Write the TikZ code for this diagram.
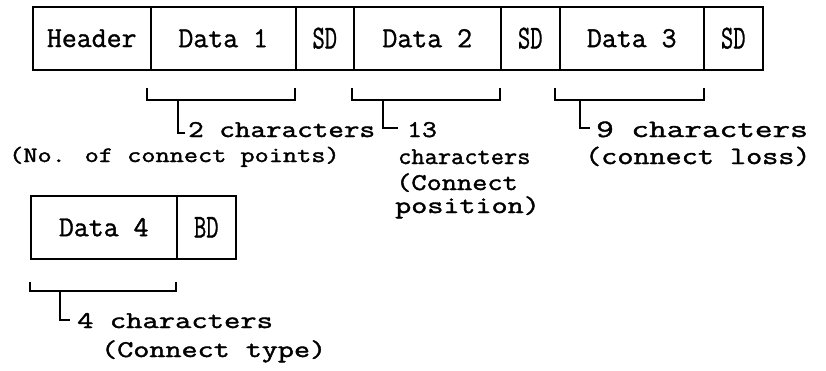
\documentclass[tikz,border=0pt]{standalone}
\usepackage{graphicx}
\newcommand\heavy[1]{\special{pdf:literal direct 2 Tr 0.35 w}#1\special{pdf:literal direct 0 Tr}}
\newcommand\narrowtxt[1]{\heavy{\scalebox{0.82}[1.15]{#1}}}
\newcommand\tw[3]{{\fontsize{#1}{#1}\selectfont\heavy{\scalebox{#2}[1]{#3}}}}
\begin{document}
\begin{tikzpicture}[x=1pt,y=-1pt,
  cell/.style={draw, line width=1.5pt, rectangle, inner sep=0pt,
    minimum height=63pt, anchor=north west,
    font=\fontsize{29}{34}\selectfont\ttfamily},
  brk/.style={line width=1.3pt},
  note/.style={anchor=base west, inner sep=0pt, font=\ttfamily}]
\useasboundingbox (0,0) rectangle (826,370);
% top row
\node[cell, minimum width=118pt] (hdr) at (32,6) {\heavy{Header}};
\node[cell, minimum width=145pt] (d1) at (150,6) {\heavy{Data 1}};
\node[cell, minimum width=58pt] (sd1) at (295,6) {\narrowtxt{SD}};
\node[cell, minimum width=147pt] (d2) at (353,6) {\heavy{Data 2}};
\node[cell, minimum width=59pt] (sd2) at (500,6) {\narrowtxt{SD}};
\node[cell, minimum width=144pt] (d3) at (559,6) {\heavy{Data 3}};
\node[cell, minimum width=59pt] (sd3) at (703,6) {\narrowtxt{SD}};
% bottom row
\node[cell, minimum width=146pt] (d4) at (30,195) {\heavy{Data 4}};
\node[cell, minimum width=59pt] (bd) at (176,195) {\narrowtxt{BD}};
% brackets
\draw[brk] (147,88) -- (147,100) -- (295,100) -- (295,88);
\draw[brk] (352,88) -- (352,100) -- (500,100) -- (500,88);
\draw[brk] (555,88) -- (555,100) -- (704,100) -- (704,88);
\draw[brk] (30,282) -- (30,291) -- (176,291) -- (176,282);
% stems
\coordinate (s1) at (178,100); \coordinate (h1) at (185,133);
\coordinate (s2) at (383,100); \coordinate (h2) at (398,128);
\coordinate (s3) at (580,100); \coordinate (h3) at (590,128);
\coordinate (s4) at (60,291);  \coordinate (h4) at (70,320);
\draw[brk] (s1) |- (h1);
\draw[brk] (s2) |- (h2);
\draw[brk] (s3) |- (h3);
\draw[brk] (s4) |- (h4);
% labels
\node[note] (l1a) at (188,137) {\tw{24}{1.26}{2 characters}};
\node[note] (l1b) at (9,162) {\tw{22}{1.25}{(No. of connect points)}};
\node[note] (l2a) at (407,137) {\tw{24}{1.2}{13}};
\node[note] (l2b) at (398,164) {\tw{24}{1.07}{characters}};
\node[note] (l2c) at (396,190) {\tw{24}{1.23}{(Connect}};
\node[note] (l2d) at (395,213) {\tw{24}{1.3}{position)}};
\node[note] (l3a) at (596,137) {\tw{25}{1.37}{9 characters}};
\node[note] (l3b) at (585,164) {\tw{25}{1.25}{(connect loss)}};
\node[note] (l4a) at (77,328) {\tw{24}{1.32}{4 characters}};
\node[note] (l4b) at (101,357) {\tw{24}{1.3}{(Connect type)}};
\end{tikzpicture}
\end{document}
